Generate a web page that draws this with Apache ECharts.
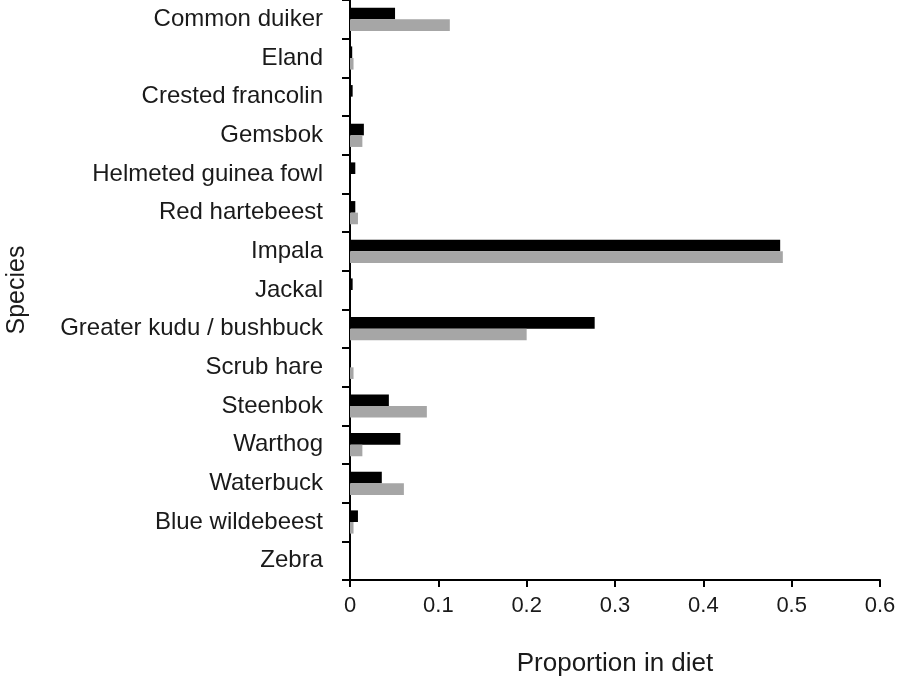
<!DOCTYPE html>
<html>
<head>
<meta charset="utf-8">
<script src="https://cdn.jsdelivr.net/npm/echarts@6/dist/echarts.min.js"></script>
<style>
html,body{margin:0;padding:0;background:#fff;}
#chart{width:898px;height:681px;}
</style>
</head>
<body>
<div id="chart"></div>
<script>
const categories = ["Common duiker","Eland","Crested francolin","Gemsbok","Helmeted guinea fowl","Red hartebeest","Impala","Jackal","Greater kudu / bushbuck","Scrub hare","Steenbok","Warthog","Waterbuck","Blue wildebeest","Zebra"];
const seriesBlack = [0.051,0.0025,0.003,0.0157,0.006,0.006,0.487,0.003,0.277,0,0.044,0.057,0.036,0.009,0];
const seriesGray  = [0.113,0.004,0,0.014,0,0.009,0.490,0,0.200,0.004,0.087,0.014,0.061,0.004,0];
const xTicks = [0,0.1,0.2,0.3,0.4,0.5,0.6];

const chart = echarts.init(document.getElementById('chart'));
const font = '"Liberation Sans", Arial, sans-serif';
chart.setOption({
  animation:false,
  backgroundColor:'#fff',
  grid:{left:350,right:18,top:0,bottom:101,containLabel:false,outerBoundsMode:'none'},
  xAxis:{
    type:'value',min:xTicks[0],max:xTicks[xTicks.length-1],interval:0.1,
    name:'Proportion in diet',nameLocation:'middle',nameGap:71,
    nameTextStyle:{fontFamily:font,fontSize:26,color:'#1a1a1a'},
    axisLine:{show:true,lineStyle:{color:'#000',width:2}},
    axisTick:{show:true,length:7,lineStyle:{color:'#000',width:2}},
    axisLabel:{fontFamily:font,fontSize:22,color:'#1a1a1a',margin:15,
      formatter:function(v){return v===0?'0':v.toFixed(1);}},
    splitLine:{show:false}
  },
  yAxis:{
    type:'category',data:categories,inverse:true,
    name:'Species',nameLocation:'middle',nameGap:320,
    nameTextStyle:{fontFamily:font,fontSize:25,color:'#1a1a1a'},
    axisLine:{show:true,lineStyle:{color:'#000',width:2}},
    axisTick:{show:true,length:8,lineStyle:{color:'#000',width:2}},
    axisLabel:{fontFamily:font,fontSize:24,color:'#1a1a1a',margin:27}
  },
  series:[
    {name:'Series A',type:'bar',data:seriesBlack,barCategoryGap:'40%',barGap:'0%',
      itemStyle:{color:'#000'}},
    {name:'Series B',type:'bar',data:seriesGray,barCategoryGap:'40%',barGap:'0%',
      itemStyle:{color:'#a6a6a6'}}
  ]
});
</script>
</body>
</html>
